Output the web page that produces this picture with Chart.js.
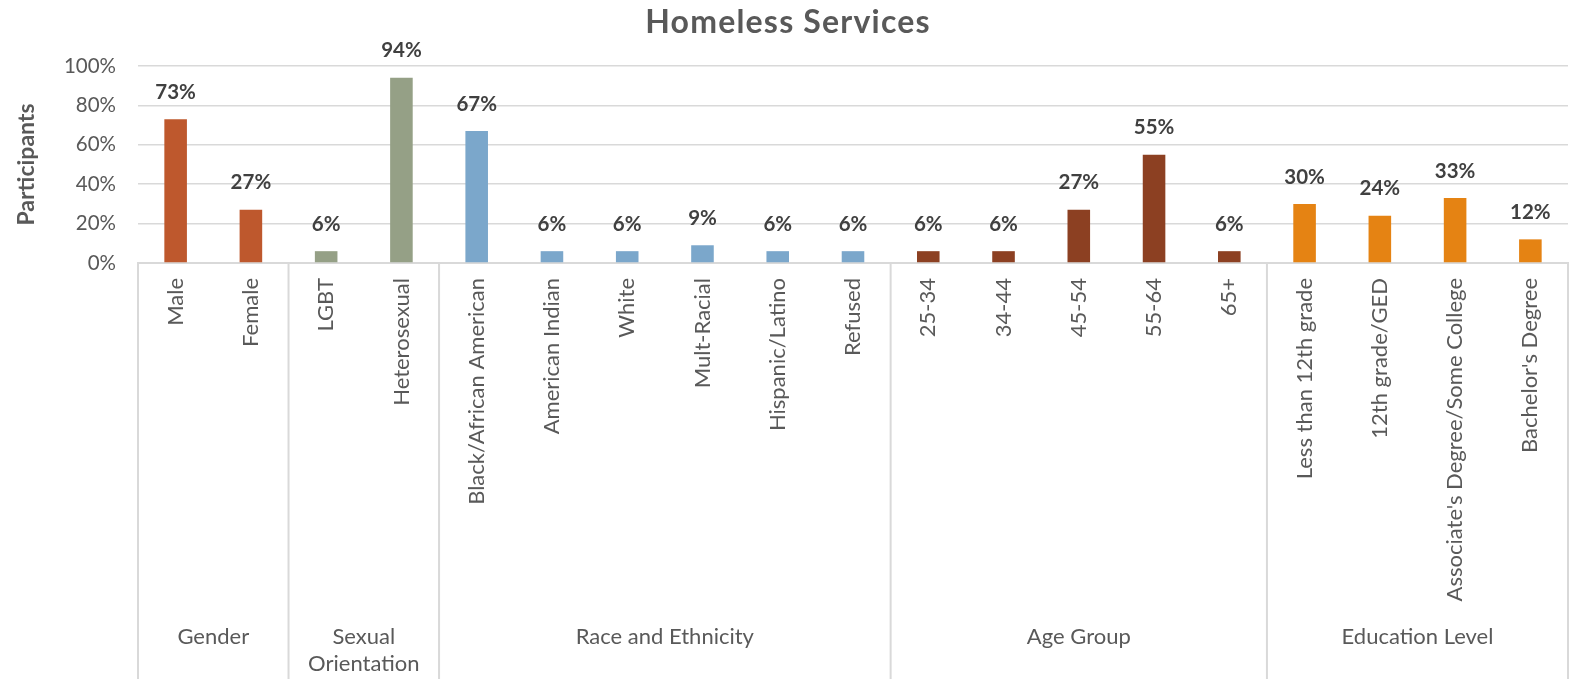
<!DOCTYPE html>
<html>
<head>
<meta charset="utf-8">
<title>Homeless Services</title>
<script src="https://cdn.jsdelivr.net/npm/chart.js@4/dist/chart.umd.min.js"></script>
<style>
  html, body { margin: 0; padding: 0; background: #ffffff; }
  #wrap { width: 1575px; height: 679px; position: relative; }
</style>
</head>
<body>
<div id="wrap"><canvas id="chart" width="1575" height="679"></canvas></div>
<script>
// Survey breakdown of participants
const categories = [
  'Male', 'Female',
  'LGBT', 'Heterosexual',
  'Black/African American', 'American Indian', 'White', 'Mult-Racial', 'Hispanic/Latino', 'Refused',
  '25-34', '34-44', '45-54', '55-64', '65+',
  'Less than 12th grade', '12th grade/GED', "Associate's Degree/Some College", "Bachelor's Degree"
];
const values = [73, 27, 6, 94, 67, 6, 6, 9, 6, 6, 6, 6, 27, 55, 6, 30, 24, 33, 12];
const groupNames = [['Gender'], ['Sexual', 'Orientation'], ['Race and Ethnicity'], ['Age Group'], ['Education Level']];
const groupSizes = [2, 2, 6, 5, 4];
const groupColors = ['#BE582D', '#95A086', '#7BA7CB', '#8C4022', '#E58313'];
const yTicks = [0, 20, 40, 60, 80, 100];

const FONT = 'Lato, "Open Sans", sans-serif';
const GRID = '#D9D9D9';
const TEXT = '#595959';

// one colour per bar, taken from its group
const barColors = [];
groupSizes.forEach((n, g) => { for (let i = 0; i < n; i++) barColors.push(groupColors[g]); });

// title, value labels, group labels and group separators
const decorations = {
  id: 'decorations',
  afterDatasetsDraw(chart) {
    const ctx = chart.ctx;
    const meta = chart.getDatasetMeta(0);
    ctx.save();
    ctx.font = 'bold 20.5px ' + FONT;
    ctx.fillStyle = '#404040';
    ctx.textAlign = 'center';
    ctx.textBaseline = 'middle';
    meta.data.forEach((bar, i) => {
      ctx.fillText(values[i] + '%', bar.x, bar.y - 27);
    });
    ctx.restore();
  },
  afterDraw(chart) {
    const ctx = chart.ctx;
    const xs = chart.scales.x;
    const area = chart.chartArea;
    const H = chart.height;
    ctx.save();

    // title
    ctx.font = 'bold 32px ' + FONT;
    ctx.fillStyle = TEXT;
    ctx.textAlign = 'center';
    ctx.textBaseline = 'middle';
    if ('letterSpacing' in ctx) ctx.letterSpacing = '1.2px';
    ctx.fillText('Homeless Services', 788, 23);
    if ('letterSpacing' in ctx) ctx.letterSpacing = '0px';

    // group boundaries
    const bounds = [area.left];
    let idx = 0;
    groupSizes.forEach((n) => {
      idx += n;
      if (idx < categories.length) {
        bounds.push((xs.getPixelForTick(idx - 1) + xs.getPixelForTick(idx)) / 2);
      } else {
        bounds.push(area.right);
      }
    });
    ctx.strokeStyle = GRID;
    ctx.lineWidth = 2;
    bounds.forEach((bx) => {
      ctx.beginPath();
      ctx.moveTo(bx, area.bottom);
      ctx.lineTo(bx, H);
      ctx.stroke();
    });

    // group labels
    ctx.font = '22px ' + FONT;
    ctx.fillStyle = TEXT;
    ctx.textAlign = 'center';
    ctx.textBaseline = 'middle';
    groupNames.forEach((lines, g) => {
      const cx = (bounds[g] + bounds[g + 1]) / 2;
      lines.forEach((line, k) => ctx.fillText(line, cx, 637 + k * 27));
    });
    ctx.restore();
  }
};

new Chart(document.getElementById('chart'), {
  type: 'bar',
  data: {
    labels: categories,
    datasets: [{
      data: values,
      backgroundColor: barColors,
      borderWidth: 0,
      barPercentage: 0.3,
      categoryPercentage: 1
    }]
  },
  options: {
    responsive: false,
    animation: false,
    devicePixelRatio: 1,
    layout: { padding: { top: 66, right: 7, bottom: 0, left: 0 } },
    plugins: {
      legend: { display: false },
      title: { display: false },
      tooltip: { enabled: false }
    },
    scales: {
      x: {
        grid: { display: false, drawTicks: false },
        border: { display: true, color: GRID, width: 2 },
        ticks: {
          autoSkip: false,
          minRotation: 90,
          maxRotation: 90,
          padding: 15,
          color: TEXT,
          font: { family: FONT, size: 22 }
        },
        afterFit(scale) { scale.height = 416; }
      },
      y: {
        min: 0,
        max: 100,
        afterBuildTicks(scale) { scale.ticks = yTicks.map(v => ({ value: v })); },
        grid: { color: GRID, lineWidth: 1.5, drawTicks: false },
        border: { display: false },
        ticks: {
          padding: 22,
          color: TEXT,
          font: { family: FONT, size: 20.5 },
          callback: (v) => v + '%'
        },
        title: {
          display: true,
          text: 'Participants',
          color: TEXT,
          font: { family: FONT, size: 23, weight: 'bold' },
          padding: { top: 13, bottom: 0 }
        },
        afterFit(scale) { scale.width = 138; }
      }
    }
  },
  plugins: [decorations]
});
</script>
</body>
</html>
